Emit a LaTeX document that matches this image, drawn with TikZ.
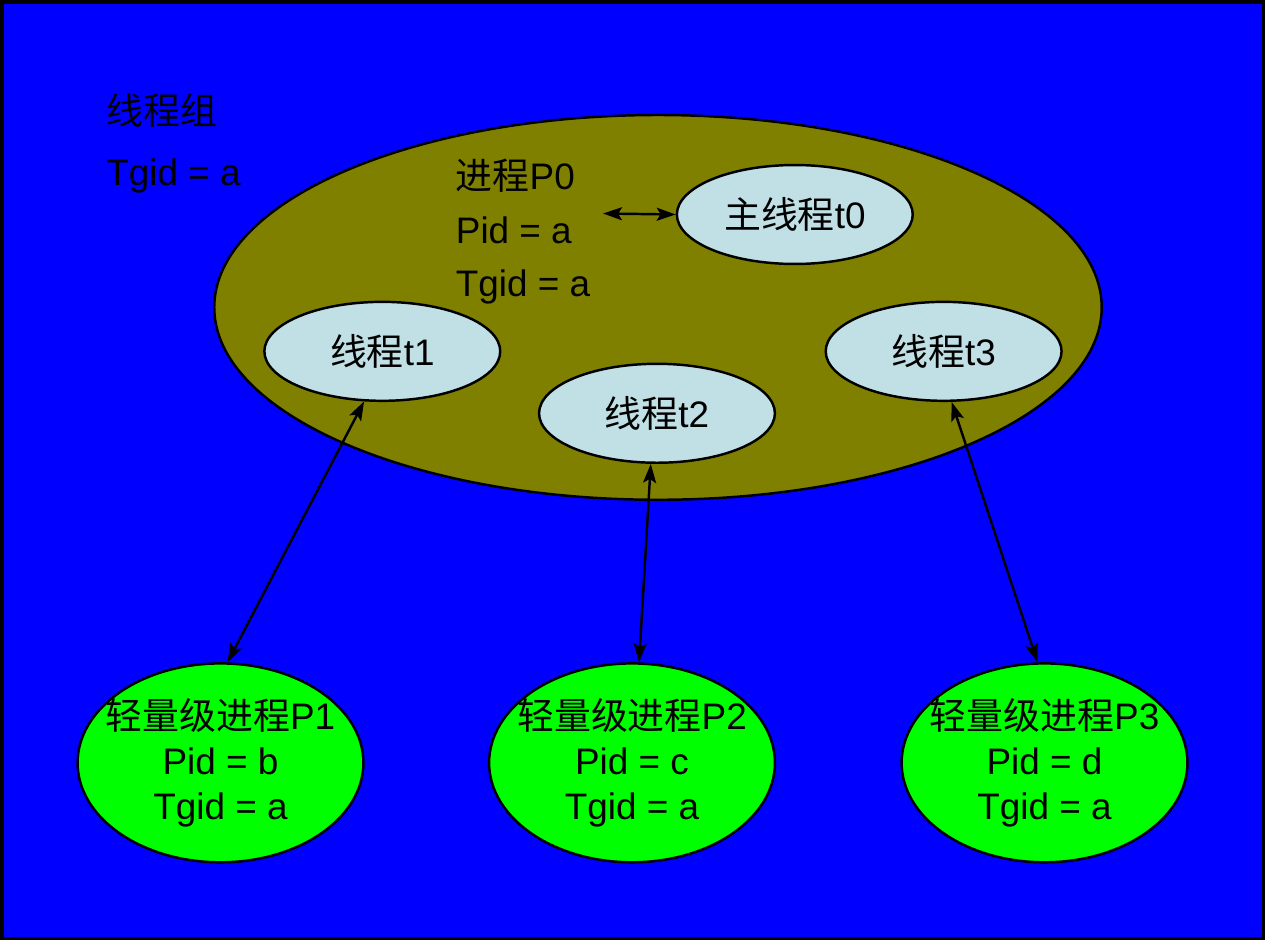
\documentclass[tikz,border=0pt]{standalone}
\usepackage{fontspec}
\setmainfont{Liberation Sans}
\newfontfamily\cjk{Noto Sans CJK SC}
\usetikzlibrary{shapes.geometric,arrows.meta}
\definecolor{bgblue}{RGB}{0,0,255}
\definecolor{olivefill}{RGB}{128,128,0}
\definecolor{threadfill}{RGB}{192,224,230}
\definecolor{lwpfill}{RGB}{0,255,0}
\tikzset{
  lbl/.style={font=\fontsize{10.5}{12}\selectfont, text=black, inner sep=0pt},
  threadnode/.style={ellipse, draw=black, line width=0.7pt, fill=threadfill,
    minimum width=2.36cm, minimum height=0.99cm, inner sep=0pt,
    font=\fontsize{10.5}{12}\selectfont},
  lwpnode/.style={ellipse, draw=black, line width=0.7pt, fill=lwpfill,
    minimum width=2.86cm, minimum height=1.99cm, inner sep=0pt},
  lwptext/.style={align=center, inner sep=0pt, text=black,
    font=\fontsize{10.5}{12.8}\selectfont},
  link/.style={line width=0.7pt, {Stealth[length=0.19cm,width=0.13cm,inset=0.04cm]}-{Stealth[length=0.19cm,width=0.13cm,inset=0.04cm]}}
}
\begin{document}
\begin{tikzpicture}[x=0.01cm,y=-0.01cm]
  \fill[bgblue] (0,0) rectangle (1265,940);
  \draw[black, line width=1pt] (1,1) rectangle (1264,939);
  \useasboundingbox (0,0) rectangle (1265,940);

  \node[lbl, anchor=west] (grp) at (105,110) {\cjk 线程组};
  \node[lbl, anchor=west] (grptgid) at (105,175) {Tgid = a};

  \node[ellipse, draw=black, line width=0.7pt, fill=olivefill,
        minimum width=8.88cm, minimum height=3.85cm, inner sep=0pt] (p0) at (658,307) {};

  \node[lbl, anchor=west] (p0name) at (455,175) {{\cjk 进程}P0};
  \node[lbl, anchor=west] (p0pid) at (455,230) {Pid = a};
  \node[lbl, anchor=west] (p0tgid) at (455,287) {Tgid = a};

  \node[threadnode] (t0) at (795,214) {{\cjk 主线程}t0};
  \node[threadnode] (t1) at (382,351) {{\cjk 线程}t1};
  \node[threadnode] (t2) at (657,413) {{\cjk 线程}t2};
  \node[threadnode] (t3) at (944,351) {{\cjk 线程}t3};

  \node[lwpnode] (p1) at (220,763) {};
  \node[lwpnode] (p2) at (632,763) {};
  \node[lwpnode] (p3) at (1045,763) {};
  \node[lwptext] (p1text) at (p1.center) {{\cjk 轻量级进程}P1\\Pid = b\\Tgid = a};
  \node[lwptext] (p2text) at (p2.center) {{\cjk 轻量级进程}P2\\Pid = c\\Tgid = a};
  \node[lwptext] (p3text) at (p3.center) {{\cjk 轻量级进程}P3\\Pid = d\\Tgid = a};

  \coordinate (p0arrow) at (603,213);
  \draw[link] (p0arrow) -- (t0.west);
  \draw[link] (t1.-110) -- (p1.86);
  \draw[link] (t2.-97) -- (p2.86);
  \draw[link] (t3.-81) -- (p3.94);
\end{tikzpicture}
\end{document}
